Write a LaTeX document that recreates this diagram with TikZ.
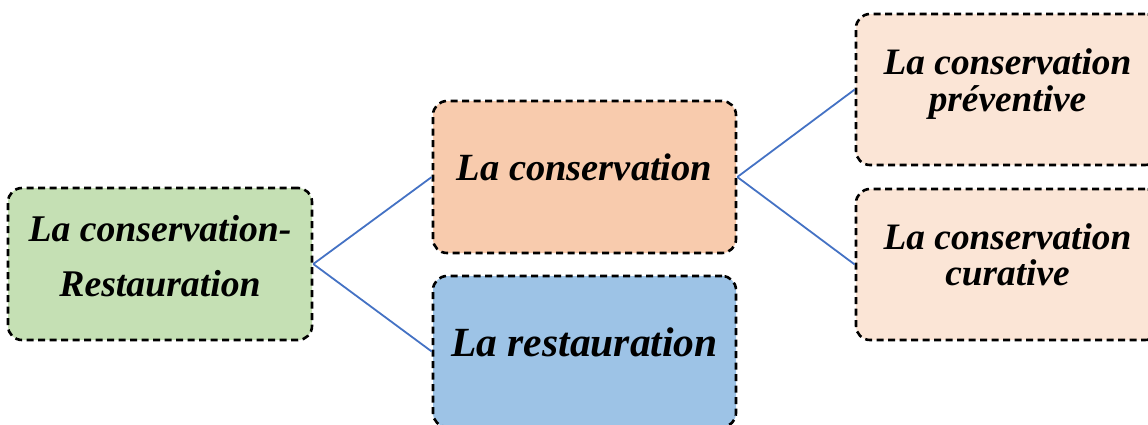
\documentclass[tikz,border=0pt]{standalone}
\usepackage{fontspec}
\setmainfont{Liberation Serif}
\definecolor{cgreen}{HTML}{C5E0B4}
\definecolor{corange}{HTML}{F8CBAD}
\definecolor{cblue}{HTML}{9DC3E6}
\definecolor{cpeach}{HTML}{FBE5D6}
\definecolor{cline}{HTML}{4472C4}
\begin{document}
\begin{tikzpicture}[x=1pt,y=-1pt,
  box/.style={draw=black, line width=2.6pt, dash pattern=on 7pt off 4.5pt,
    rounded corners=14pt, inner sep=0pt, minimum width=303pt, minimum height=151pt},
  lbl/.style={inner sep=0pt, anchor=north, align=center},
  conn/.style={draw=cline, line width=1.8pt}]
\useasboundingbox (0,0) rectangle (1148,424);
\node[box, fill=cgreen, minimum width=304pt, minimum height=152pt] (b0) at (160,264) {};
\node[box, fill=corange, minimum height=152pt] (b1) at (584.5,177) {};
\node[box, fill=cblue] (b2) at (584.5,351.5) {};
\node[box, fill=cpeach] (b3) at (1007.5,89.5) {};
\node[box, fill=cpeach] (b4) at (1007.5,264.5) {};
\draw[conn] (b0.east) -- (b1.west);
\draw[conn] (b0.east) -- (b2.west);
\draw[conn] (b1.east) -- (b3.west);
\draw[conn] (b1.east) -- (b4.west);
\node[lbl, font={\fontsize{37.7}{55}\selectfont\bfseries\itshape}] (t0) at (160,215) {La conservation-\\Restauration};
\node[lbl, font={\fontsize{38.5}{48}\selectfont\bfseries\itshape}] (t1) at (584.5,154) {La conservation};
\node[lbl, font={\fontsize{41.5}{48}\selectfont\bfseries\itshape}] (t2) at (584.5,327) {La restauration};
\node[lbl, font={\fontsize{37.3}{37}\selectfont\bfseries\itshape}] (t3) at (1007.5,48) {La conservation\\préventive};
\node[lbl, font={\fontsize{37.3}{36}\selectfont\bfseries\itshape}] (t4) at (1007.5,223) {La conservation\\curative};
\end{tikzpicture}
\end{document}
